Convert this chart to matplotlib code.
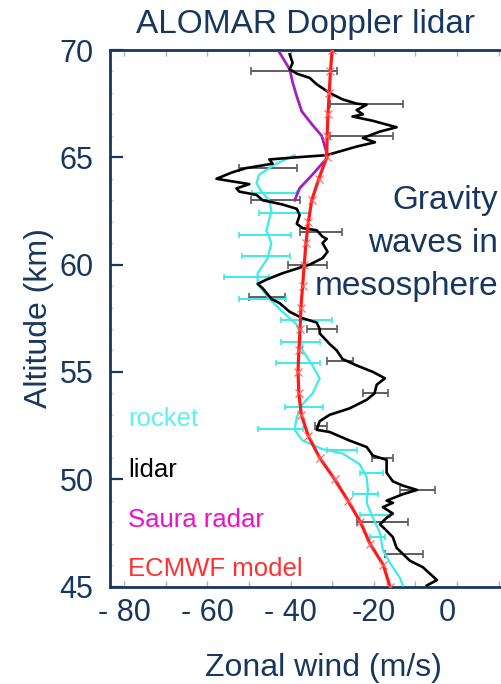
import matplotlib
matplotlib.use("Agg")
import matplotlib.pyplot as plt
from matplotlib import font_manager
from matplotlib.transforms import ScaledTranslation
import numpy as np

# ---------------- data ----------------
lidar_alt = [69.8, 69.4, 69.1, 68.9, 68.7, 68.4, 68.0, 67.7, 67.5, 67.45, 67.2, 67.0, 66.9, 66.7,
             66.4, 66.2, 65.9, 65.7, 65.5, 65.1, 65.0, 64.9, 64.7, 64.5, 64.3, 64.0, 63.9, 63.75,
             63.55, 63.4, 63.25, 63.0, 62.8, 62.6, 62.3, 61.9, 61.7, 61.6, 61.3, 61.2, 61.0, 60.6,
             60.3, 60.0, 59.6, 59.3, 59.1, 58.9, 58.4, 58.2, 57.8, 57.5, 57.3, 57.0, 56.8, 56.3,
             56.0, 55.6, 55.3, 55.0, 54.7, 54.4, 54.0, 53.7, 53.3, 53.0, 52.7, 52.3, 52.2, 51.8,
             51.5, 51.1, 50.9, 50.3, 49.9, 49.7, 49.5, 49.3, 49.0, 48.9, 48.7, 48.4, 48.2, 47.9,
             47.6, 47.3, 46.8, 46.2, 45.9, 45.6, 45.3, 45.05]
lidar_wind = [-40.2, -39.5, -40.2, -38.5, -35.4, -33.7, -30.6, -27.5, -24.1, -21.7, -24.1, -22.6, -25.1, -20.2,
              -14.5, -18.5, -22.6, -19.7, -24.1, -31.3, -38.5, -45.1, -44.3, -50.6, -54.0, -57.8, -54.7, -49.9,
              -53.0, -52.3, -48.2, -46.7, -41.9, -38.5, -37.8, -38.5, -37.1, -33.7, -32.3, -31.3, -32.3, -31.1,
              -32.3, -35.4, -41.9, -45.8, -47.9, -46.7, -44.6, -42.6, -40.2, -37.1, -33.7, -33.0, -33.0, -30.6,
              -28.9, -27.5, -24.1, -20.2, -17.3, -19.3, -19.8, -21.7, -25.8, -30.6, -33.0, -33.7, -30.6, -25.8,
              -21.7, -20.2, -16.9, -16.9, -15.4, -13.0, -9.6, -13.0, -16.9, -15.4, -17.8, -15.4, -16.9, -18.5,
              -16.9, -15.4, -14.5, -11.3, -8.2, -6.5, -4.8, -7.2]

lidar_err_alt = [69.0, 67.5, 66.0, 64.5, 63.0, 61.5, 60.0, 58.5, 57.0, 55.5, 54.0, 52.5, 51.0, 49.5, 48.0, 46.5]
lidar_err_lo = [-49.4, -30.6, -30.6, -52.3, -49.4, -37.8, -40.7, -49.9, -36.1, -31.3, -22.6, -34.2, -20.4, -13.7, -24.1, -17.3]
lidar_err_hi = [-28.9, -13.0, -15.4, -38.5, -37.8, -27.7, -31.3, -41.4, -28.9, -25.1, -16.6, -31.3, -15.4, -5.3, -11.8, -8.2]

rocket_alt = [65.1, 64.7, 64.2, 63.8, 63.4, 63.0, 62.5, 61.6, 61.0, 60.3, 59.6, 59.1, 58.4, 57.8, 57.2,
              56.8, 56.0, 55.3, 54.7, 54.0, 53.5, 52.9, 52.3, 51.8, 51.4, 51.2, 50.7, 50.1, 49.5, 48.9,
              48.2, 47.5, 46.7, 46.1, 45.4, 45.05]
rocket_wind = [-39.0, -43.4, -47.5, -48.2, -47.0, -45.1, -44.6, -45.8, -44.6, -45.5, -47.9, -47.9, -45.1, -41.9, -38.5,
               -37.8, -37.1, -34.7, -33.0, -34.7, -37.1, -38.5, -39.0, -37.1, -32.3, -27.5, -23.4, -21.7, -21.4, -21.7,
               -20.2, -18.5, -17.8, -16.1, -13.7, -13.0]

rocket_err_alt = [63.35, 62.4, 61.4, 60.4, 59.4, 58.4, 57.4, 56.4, 55.4, 53.35, 52.35, 51.35, 50.3, 49.3, 48.35, 47.3]
rocket_err_lo = [-49.2, -47.5, -52.3, -51.6, -55.9, -52.3, -42.2, -42.2, -43.4, -41.4, -47.9, -31.3, -23.4, -25.1, -23.4, -21.0]
rocket_err_hi = [-38.5, -35.4, -39.8, -40.2, -45.1, -41.0, -30.1, -33.0, -33.0, -32.3, -37.1, -24.1, -17.8, -19.0, -16.1, -17.3]

saura_alt = [69.87, 69.1, 68.5, 67.84, 67.14, 66.5, 66.0, 65.2, 64.95, 64.2, 63.56, 63.0]
saura_wind = [-42.6, -40.2, -39.5, -38.5, -37.3, -34.7, -32.5, -31.3, -31.3, -34.7, -37.8, -39.0]

ecmwf_alt = [45, 46, 47, 48, 49, 50, 51, 52, 53, 54, 55, 56, 57, 58, 59, 60, 61, 62, 63, 64, 65, 66, 67, 68, 69, 70]
ecmwf_wind = [-16.1, -17.7, -20.9, -23.2, -26.2, -29.4, -33.0, -35.7, -37.4, -38.0, -38.2, -38.0, -37.7, -37.5, -37.1,
              -36.7, -36.3, -35.7, -34.9, -33.2, -31.3, -31.2, -31.0, -30.7, -30.4, -30.0]

xticks = [-80, -60, -40, -20, 0]
xtick_labels = ["- 80", "- 60", "- 40", "-20", "0"]
yticks = [45, 50, 55, 60, 65, 70]
legend_names = ["rocket", "lidar", "Saura radar", "ECMWF model"]
annotation = "Gravity\nwaves in\nmesosphere"

# ---------------- style ----------------
NAVY = "#17375e"
plt.rcParams["font.family"] = ["Liberation Sans", "DejaVu Sans"]

names = {f.name for f in font_manager.fontManager.ttflist}
if "Liberation Sans Narrow" in names:
    narrow_family = ["Liberation Sans Narrow", "Liberation Sans"]
    narrow_size = 22
else:
    narrow_family = ["Liberation Sans", "DejaVu Sans"]
    narrow_size = 18.5

fig = plt.figure(figsize=(5.01, 6.84), dpi=100)
ax = fig.add_axes([110 / 501, 1 - 586.5 / 684, (501 - 110) / 501, (586.5 - 50) / 684])
ax.set_xlim(-83.4, 10.6)
ax.set_ylim(45, 69.9)

# error bars
lc = np.array(lidar_err_lo); hc = np.array(lidar_err_hi)
ax.errorbar((lc + hc) / 2, lidar_err_alt, xerr=(hc - lc) / 2, fmt="none",
            ecolor="#5e5e5e", elinewidth=1.4, capsize=3, capthick=1.2, zorder=2)
rl = np.array(rocket_err_lo); rh = np.array(rocket_err_hi)
ax.errorbar((rl + rh) / 2, rocket_err_alt, xerr=(rh - rl) / 2, fmt="none",
            ecolor="#3eeaea", elinewidth=1.4, capsize=2.5, capthick=1.2, zorder=2)

# lines
ax.plot(rocket_wind, rocket_alt, color="#3eeaea", lw=1.6, zorder=3)
ax.plot(saura_wind, saura_alt, color="#a41fc0", lw=2.0, zorder=4)
ax.plot(lidar_wind, lidar_alt, color="black", lw=1.9, zorder=5)
ax.plot(ecmwf_wind, ecmwf_alt, color="#ff1a1a", lw=2.3, zorder=6,
        marker="x", markersize=6, markeredgewidth=0.8, markeredgecolor="#ff5a5a")

# axes styling
for s in ["left", "bottom", "top"]:
    ax.spines[s].set_color(NAVY)
    ax.spines[s].set_linewidth(2.0)
ax.spines["right"].set_visible(False)

ax.set_yticks(yticks)
ax.set_yticks(np.arange(45, 70, 1), minor=True)
ax.tick_params(axis="y", which="major", direction="in", length=9, width=1.6, color=NAVY,
               labelsize=22, labelcolor=NAVY, pad=12)
ax.tick_params(axis="y", which="minor", direction="in", length=2, width=1, color="#cccccc")

ax.set_xticks(xticks)
ax.set_xticklabels(xtick_labels)
ax.set_xticks(np.arange(-70, 11, 20), minor=True)
ax.tick_params(axis="x", which="both", direction="in", length=4, width=1, color="#b0b0b0",
               top=True, labelsize=22, labelcolor=NAVY, pad=8)
# nudge the "0" label as in the original slide
lbl0 = ax.get_xticklabels()[-1]
lbl0.set_transform(lbl0.get_transform() + ScaledTranslation(-0.10, 0, fig.dpi_scale_trans))

ax.set_xlabel("Zonal wind (m/s)", fontsize=23, color=NAVY)
ax.xaxis.set_label_coords(0.545, -0.124)
ax.set_ylabel("Altitude (km)", fontsize=23, color=NAVY, labelpad=4)

fig.text(0.609, 1 - 25 / 684, "ALOMAR Doppler lidar", fontsize=24, color=NAVY,
         ha="center", va="center")

ax.text(0.993, 0.639, annotation, transform=ax.transAxes, fontsize=24, color=NAVY,
        ha="right", va="center", multialignment="right", linespacing=1.5, zorder=7)

legend_colors = ["#5ff0f0", "black", "#ee10c8", "#ff3030"]
legend_y = [426, 477, 527, 576]
for name, col, yb in zip(legend_names, legend_colors, legend_y):
    fig.text(128 / 501, 1 - yb / 684, name, fontsize=narrow_size, color=col,
             family=narrow_family, ha="left", va="baseline")

fig.savefig("out.png", dpi=100)
